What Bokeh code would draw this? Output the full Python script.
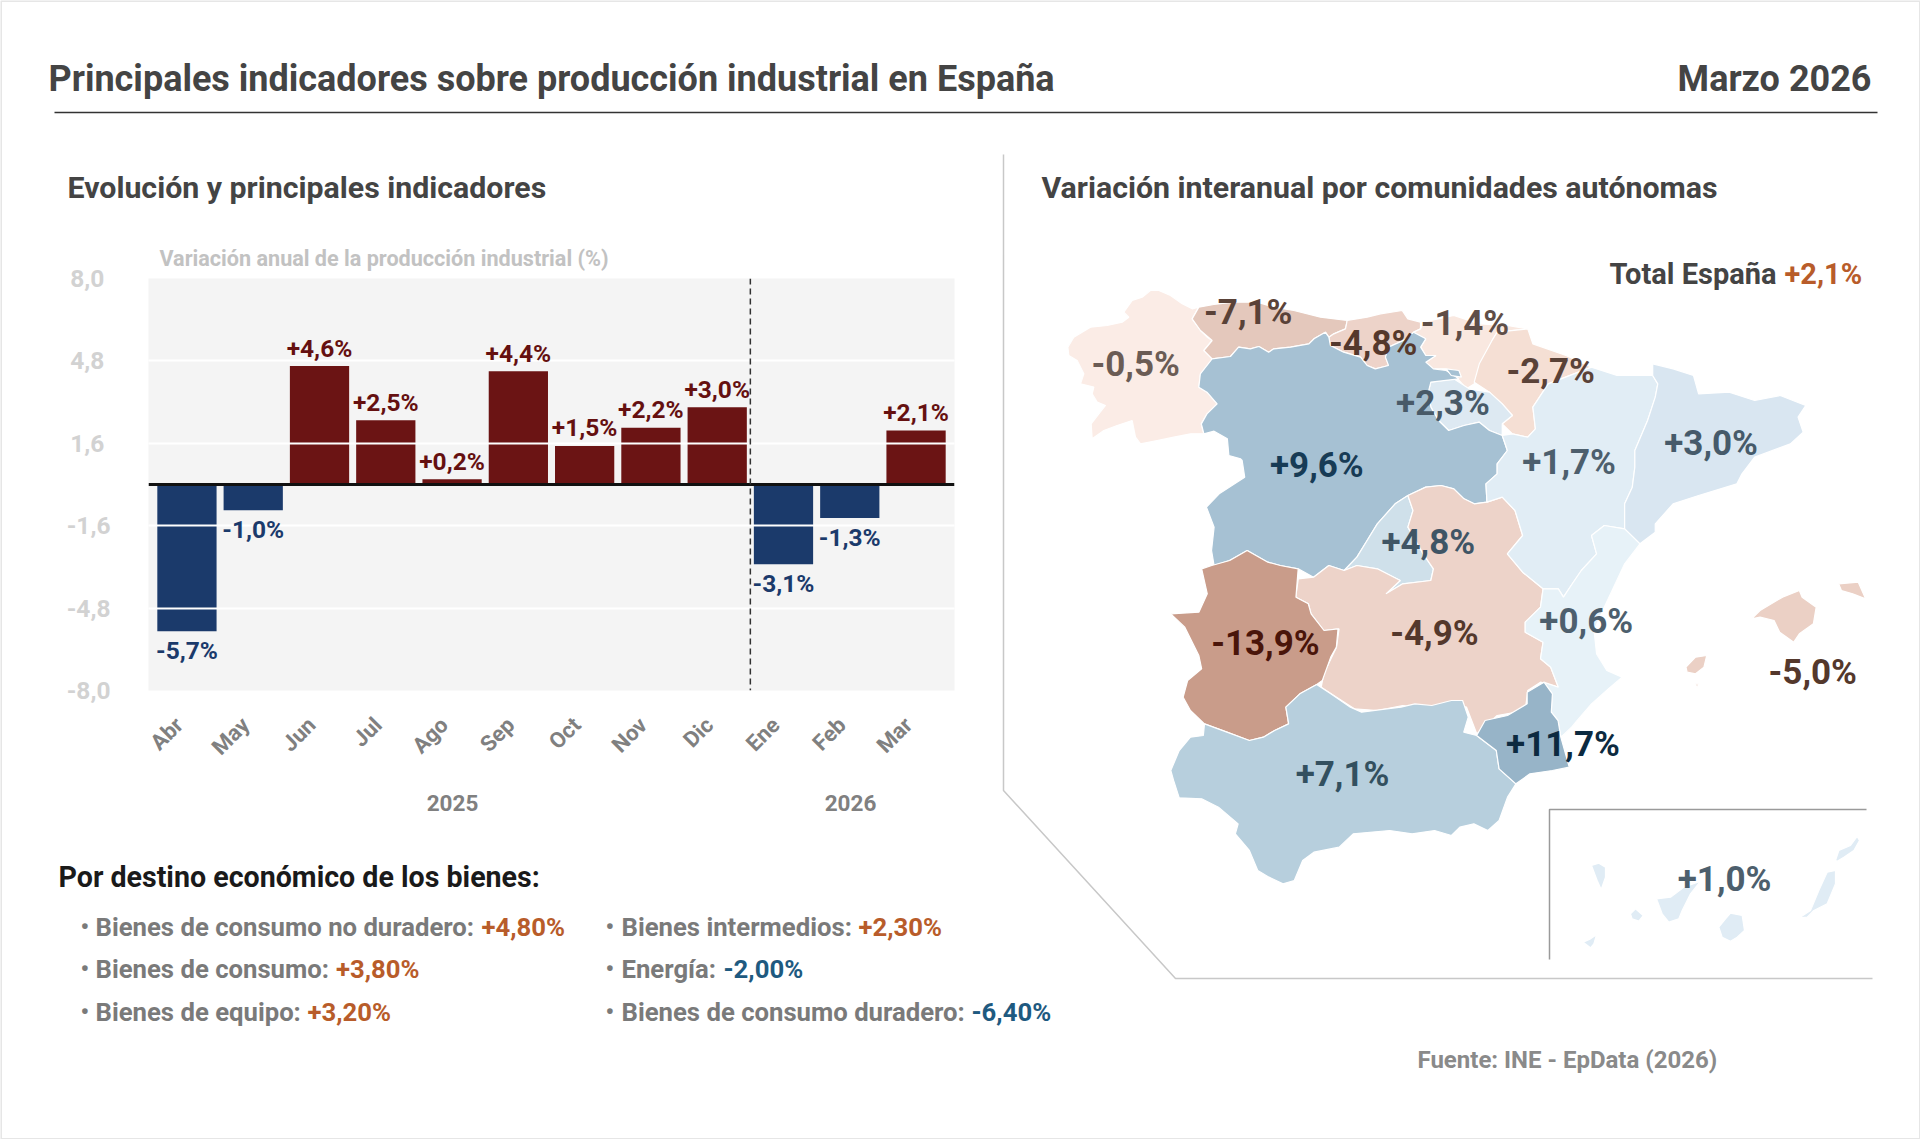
from bokeh.plotting import figure
from bokeh.layouts import row, column
from bokeh.core.properties import value
from bokeh.models import Range1d, FactorRange, FixedTicker, Span
from bokeh.embed import file_html
from bokeh.resources import INLINE

FONT = "Roboto"

# ---------- chart data ----------
MONTHS = ["Abr", "May", "Jun", "Jul", "Ago", "Sep", "Oct", "Nov", "Dic", "Ene", "Feb", "Mar"]
PRODUCTION = [-5.7, -1.0, 4.6, 2.5, 0.2, 4.4, 1.5, 2.2, 3.0, -3.1, -1.3, 2.1]
BAR_LABELS = ["-5,7%", "-1,0%", "+4,6%", "+2,5%", "+0,2%", "+4,4%", "+1,5%", "+2,2%", "+3,0%", "-3,1%", "-1,3%", "+2,1%"]
Y_TICKS = [-8.0, -4.8, -1.6, 1.6, 4.8, 8.0]
Y_TICK_LABELS = ["-8,0", "-4,8", "-1,6", "1,6\u00a0", "4,8\u00a0", "8,0\u00a0"]

# ---------- goods lists ----------
GOODS_LEFT = ["Bienes de consumo no duradero:", "Bienes de consumo:", "Bienes de equipo:"]
GOODS_LEFT_VALUES = ["+4,80%", "+3,80%", "+3,20%"]
GOODS_RIGHT = ["Bienes intermedios:", "Energía:", "Bienes de consumo duradero:"]
GOODS_RIGHT_VALUES = ["+2,30%", "-2,00%", "-6,40%"]

# ---------- map values ----------
REGION_VALUES = ["-0,5%", "-7,1%", "-4,8%", "-1,4%", "-2,7%", "+2,3%", "+9,6%", "+1,7%", "+3,0%",
                 "+4,8%", "-13,9%", "-4,9%", "+0,6%", "-5,0%", "+11,7%", "+7,1%", "+1,0%"]

# ---------- region outlines (map sketch units) ----------
def z1(pts):
    return [1030 + x * 0.51 for x, y in pts], [260 + y / 3 for x, y in pts]

def z2(pts):
    return [1030 + x * 0.5612 for x, y in pts], [560 + y / 3 for x, y in pts]

def zn(pts):
    return [1060 + x / 3 for x, y in pts], [280 + y / 3 for x, y in pts]

def zc(pts):
    return [1560 + x / 3 for x, y in pts], [820 + y / 3 for x, y in pts]

GALICIA = [(22,200),(40,170),(90,140),(140,135),(185,125),(205,110),(190,95),(215,60),(245,50),(270,30),(295,30),(330,45),(365,70),(395,85),(415,80),(395,115),(420,150),(440,170),(455,180),(430,210),(455,235),(450,255),(420,280),(415,320),(440,335),(470,370),(440,400),(422,430),(430,460),(390,460),(340,470),(290,480),(240,490),(225,470),(215,420),(170,435),(130,450),(95,475),(92,430),(115,400),(135,375),(110,365),(95,340),(100,320),(60,310),(70,280),(50,240),(25,225)]
ASTURIAS = [(395,115),(415,80),(460,72),(520,65),(590,65),(640,80),(700,90),(780,110),(860,120),(855,145),(820,160),(805,170),(795,155),(760,175),(745,190),(690,200),(640,205),(625,215),(595,198),(570,205),(535,200),(510,228),(455,235),(430,210),(455,180),(420,150)]
CANTABRIA = [(860,120),(920,110),(960,100),(1025,90),(1042,115),(1080,125),(1080,145),(1060,155),(1040,175),(985,200),(975,230),(985,255),(945,265),(920,255),(900,230),(850,215),(810,195),(805,170),(820,160),(855,145)]
PAIS_VASCO = [(765,205),(770,185),(830,165),(880,190),(935,195),(975,205),(915,215),(905,240),(885,310),(875,365),(855,385),(835,350),(815,325),(790,325),(775,305),(795,285),(775,285),(765,260),(775,235),(751,215)]
TREVINO = [(815,325),(840,330),(845,350),(825,345)]
NAVARRA = [(915,215),(975,205),(985,250),(1050,285),(1100,320),(1015,370),(985,440),(990,505),(975,530),(945,520),(925,490),(945,465),(925,430),(900,395),(870,365),(880,310),(905,240)]
RIOJA = [(785,365),(830,355),(860,385),(900,395),(925,430),(945,465),(925,490),(925,525),(900,510),(880,485),(850,495),(820,510),(800,480),(785,440),(780,395)]
CASTILLA_LEON = [(356,295),(392,288),(408,260),(431,265),(448,258),(467,275),(477,265),(510,260),(546,250),(556,235),(578,215),(585,230),(588,255),(614,275),(647,290),(660,315),(676,325),(702,315),(696,290),(702,260),(738,235),(751,215),(775,235),(765,260),(775,285),(795,285),(775,305),(790,325),(815,330),(840,355),(785,365),(780,395),(785,440),(800,480),(820,510),(850,495),(880,485),(900,510),(925,525),(935,570),(915,610),(915,640),(893,670),(895,725),(870,730),(850,715),(830,685),(805,675),(775,680),(740,705),(715,730),(680,790),(660,840),(640,890),(615,930),(585,915),(555,950),(525,925),(490,915),(465,905),(425,870),(390,900),(360,915),(355,870),(360,800),(345,740),(370,700),(420,650),(415,600),(412,595),(389,585),(386,535),(360,512),(340,520),(335,490),(346,460),(366,430),(346,395),(330,380),(333,340)]
MADRID = [(740,705),(715,730),(680,790),(660,840),(640,890),(615,930),(640,915),(680,925),(725,960),(697,1000),(730,970),(785,960),(790,925),(770,880),(740,800),(750,750)]
CASTILLA_MANCHA = [(740,705),(775,680),(805,675),(830,685),(850,715),(870,730),(895,725),(925,710),(950,750),(965,825),(935,880),(965,935),(1005,985),(1000,1040),(970,1085),(970,1115),(1005,1145),(1000,1195),(1020,1220),(1035,1280),(1000,1265),(975,1290),(970,1350),(915,1365),(875,1420),(855,1340),(825,1330),(770,1345),(730,1335),(680,1350),(635,1345),(610,1320),(570,1280),(575,1240),(600,1160),(605,1105),(575,1110),(550,1060),(545,1030),(520,1010),(525,955),(555,950),(585,915),(615,930),(640,915),(680,925),(725,960),(697,1000),(730,970),(785,960),(790,925),(770,880),(740,800),(750,750)]
ARAGON = [(1015,370),(1100,320),(1150,345),(1220,345),(1230,370),(1225,410),(1210,480),(1185,570),(1185,620),(1180,680),(1165,730),(1165,805),(1125,795),(1100,825),(1110,880),(1080,930),(1060,975),(1045,1010),(1035,985),(1005,985),(965,935),(935,880),(965,825),(950,750),(925,710),(895,725),(893,670),(915,640),(915,610),(935,570),(925,525),(945,520),(975,530),(990,505),(985,440)]
CATALUNA = [(1220,310),(1260,325),(1300,345),(1310,400),(1370,395),(1420,420),(1470,405),(1520,435),(1505,470),(1515,515),(1490,550),(1420,590),(1395,640),(1385,670),(1310,705),(1260,730),(1225,790),(1225,815),(1195,850),(1165,805),(1165,730),(1180,680),(1185,620),(1185,570),(1210,480),(1225,410),(1230,370),(1220,345)]
VALENCIA = [(1165,805),(1195,850),(1165,910),(1125,1040),(1105,1110),(1110,1180),(1130,1230),(1160,1250),(1133,1285),(1100,1330),(1072,1380),(1061,1400),(1040,1430),(1034,1380),(1021,1355),(1023,1300),(1006,1265),(1035,1280),(1020,1220),(1000,1195),(1005,1145),(970,1115),(970,1085),(1000,1040),(1005,985),(1035,985),(1045,1010),(1060,975),(1080,930),(1110,880),(1100,825),(1125,795)]
EXTREMADURA = [(305,25),(323,15),(355,0),(386,-30),(423,5),(445,15),(477,25),(473,110),(495,130),(500,160),(523,210),(548,205),(545,260),(535,290),(520,360),(510,372),(480,400),(455,440),(460,490),(435,510),(415,530),(390,540),(350,515),(310,490),(285,450),(272,410),(280,360),(305,325),(300,285),(275,200),(250,160),(300,155),(315,100)]
ANDALUCIA = [(510,372),(535,400),(570,440),(590,455),(635,445),(660,440),(685,430),(715,435),(750,420),(770,420),(780,470),(772,515),(795,525),(830,570),(835,625),(865,670),(850,710),(835,780),(815,810),(790,790),(765,800),(750,825),(720,810),(680,820),(640,810),(575,820),(550,860),(505,875),(485,900),(470,960),(450,970),(425,950),(405,930),(390,870),(365,820),(370,790),(335,740),(305,715),(265,712),(255,660),(250,630),(265,570),(285,530),(308,525),(310,490),(350,515),(390,540),(415,530),(435,510),(460,490),(455,440),(480,400)]
MURCIA = [(915,365),(930,400),(928,455),(940,480),(945,530),(960,620),(930,630),(890,640),(865,670),(835,625),(830,570),(795,525),(810,480),(850,465),(885,430),(885,395)]
MALLORCA = [(1285,175),(1300,150),(1340,110),(1370,90),(1375,110),(1400,140),(1395,190),(1370,220),(1360,245),(1335,215),(1325,180),(1300,170)]
MENORCA = [(1440,70),(1475,65),(1488,115),(1465,100),(1445,90)]
IBIZA = [(1168,320),(1185,290),(1205,285),(1200,320),(1185,340),(1170,335)]
FORMENTERA = [(1185,370),(1190,370),(1188,385)]
LA_PALMA = [(93,135),(115,128),(135,140),(135,170),(122,207),(110,180)]
GOMERA = [(210,280),(225,265),(248,285),(235,302),(215,295)]
TENERIFE = [(288,235),(330,230),(370,200),(420,182),(390,220),(365,270),(355,295),(325,305),(305,280)]
GRAN_CANARIA = [(475,320),(495,295),(510,278),(545,285),(552,330),(530,350),(510,362),(485,350)]
HIERRO = [(68,365),(90,355),(108,343),(100,370),(90,382)]
FUERTEVENTURA = [(800,155),(825,150),(825,190),(800,250),(760,270),(740,290),(717,292),(750,270),(775,210)]
LANZAROTE = [(825,120),(835,90),(870,75),(890,48),(897,60),(880,90),(850,110),(830,122)]

W, H = 1920, 1139

# ---------- background figure: coordinates follow the page ----------
bg = figure(width=W, height=H, x_range=Range1d(0, W), y_range=Range1d(H, 0),
            output_backend="svg", toolbar_location=None, min_border=0)
bg.axis.visible = False
bg.grid.visible = False
bg.outline_line_color = None

def txt(x, y, s, size, color, align="left"):
    bg.text(x=[x], y=[y], text=[s], text_font=value(FONT), text_font_style="bold",
            text_font_size=f"{size}px", text_color=color, text_align=align, text_baseline="middle")

shapes = [
    (zn(GALICIA), "#fbece6"), (zn(ASTURIAS), "#e4c8bc"), (zn(CANTABRIA), "#edd3c9"),
    (z1(PAIS_VASCO), "#f9e8e0"), (z1(NAVARRA), "#f5dfd4"), (z1(RIOJA), "#dde9f2"),
    (z1(CASTILLA_LEON), "#a6c1d3"), (z1(TREVINO), "#a6c1d3"), (z1(MADRID), "#cfe0ea"),
    (z1(CASTILLA_MANCHA), "#edd3c9"), (z1(ARAGON), "#e1edf5"), (z1(CATALUNA), "#d9e6f1"),
    (z1(VALENCIA), "#e7f2f8"), (z2(EXTREMADURA), "#c99c8a"), (z2(ANDALUCIA), "#b7cfdd"),
    (z2(MURCIA), "#97b4c8"), (z2(MALLORCA), "#ebd0c5"), (z2(MENORCA), "#ebd0c5"),
    (z2(IBIZA), "#ebd0c5"), (z2(FORMENTERA), "#ebd0c5"), (zc(LA_PALMA), "#e0ecf5"),
    (zc(GOMERA), "#e0ecf5"), (zc(TENERIFE), "#e0ecf5"), (zc(GRAN_CANARIA), "#e0ecf5"),
    (zc(HIERRO), "#e0ecf5"), (zc(FUERTEVENTURA), "#e0ecf5"), (zc(LANZAROTE), "#e0ecf5"),
]
bg.patches(xs=[s[0][0] for s in shapes], ys=[s[0][1] for s in shapes],
           fill_color=[s[1] for s in shapes], line_color="white", line_width=1.2)

# page edge, header and panel decoration
bg.line([0, W, W, 0, 0], [0, 0, H, H, 0], line_color="#e6e6e6", line_width=3)
bg.line([54, 1877], [112, 112], line_color="#333333", line_width=1.5)
bg.line([1003, 1003, 1175, 1872], [154, 790, 978, 978], line_color="#c8c8c8", line_width=1.5)
bg.line([1549, 1549, 1866], [959, 809, 809], line_color="#9a9a9a", line_width=1.5)

txt(48, 78, "Principales indicadores sobre producción industrial en España", 36, "#444444")
txt(1871, 78, "Marzo 2026", 36, "#444444", "right")
txt(67, 187, "Evolución y principales indicadores", 30.3, "#444444")
txt(1041, 187, "Variación interanual por comunidades autónomas", 30.3, "#444444")
txt(159, 258, "Variación anual de la producción industrial (%)", 21.6, "#c2c2c2")
txt(1776, 273, "Total España", 29, "#444444", "right")
txt(1784, 273, "+2,1%", 29, "#b85c2a")
txt(452, 802, "2025", 22.5, "#808080", "center")
txt(850, 802, "2026", 22.5, "#808080", "center")
txt(58, 876.5, "Por destino económico de los bienes:", 28.6, "#1a1a1a")

ROW_Y = [926, 968.5, 1011]
LEFT_VALUE_X = [481, 335.5, 307]
RIGHT_VALUE_X = [858, 723, 971]
for i, y in enumerate(ROW_Y):
    txt(80, y, "•", 24, "#7a7a7a")
    txt(95, y, GOODS_LEFT[i], 25.7, "#7a7a7a")
    txt(LEFT_VALUE_X[i], y, GOODS_LEFT_VALUES[i], 25.7, "#b85c2a")
    txt(605, y, "•", 24, "#7a7a7a")
    txt(621, y, GOODS_RIGHT[i], 25.7, "#7a7a7a")
    txt(RIGHT_VALUE_X[i], y, GOODS_RIGHT_VALUES[i], 25.7,
        "#b85c2a" if GOODS_RIGHT_VALUES[i].startswith("+") else "#1e5a80")
txt(1417, 1059, "Fuente: INE - EpData (2026)", 24, "#8a8a8a")

LABEL_POS = [(927,297),(1019,255),(1121,280),(1196,264),(1266,303),(1178,329),(1075,380),(1281,377),(1397,362),
             (1166,443),(1033,525),(1171,517),(1295,507),(1480,549),(1276,608),(1096,632),(1408,718)]
LABEL_COLORS = ["#6b5c55", "#5a4238", "#54382c", "#5f4e47", "#5a4238", "#485a68", "#173b55", "#4d5f6d", "#465a6a",
                "#3f5565", "#4a150a", "#54382c", "#4d5f6d", "#54382c", "#0c2a40", "#33505f", "#4d5f6d"]
for (x, y), s, c in zip(LABEL_POS, REGION_VALUES, LABEL_COLORS):
    txt(x * 1.2245, y * 1.2245, s, 35, c, "center")

# ---------- bar chart: own frame over the background ----------
factors = [m + "\u00a0\u00a0" for m in MONTHS]   # trailing gap moves the slanted tick labels off the bar centres
chart = figure(width=1000, height=860, x_range=FactorRange(*factors, range_padding=0.08, range_padding_units="absolute"),
               y_range=Range1d(-8, 8), output_backend="svg", toolbar_location=None,
               min_border_left=148, min_border_right=46, min_border_top=278, min_border_bottom=170,
               background_fill_color="#f4f4f4", border_fill_alpha=0)
chart.outline_line_color = None
bar_colors = ["#6b1414" if v > 0 else "#1b3a6b" for v in PRODUCTION]
label_colors = ["#651010" if v > 0 else "#1b3a6b" for v in PRODUCTION]
chart.vbar(x=factors, top=PRODUCTION, bottom=0, width=0.894, fill_color=bar_colors, line_color=None)
chart.text(x=factors, y=PRODUCTION, text=BAR_LABELS, text_font=value(FONT), text_font_style="bold",
           text_font_size="24.5px", text_color=label_colors, text_align="center", text_baseline="alphabetic",
           y_offset=[-18 if v > 0 else 19.5 for v in PRODUCTION], level="annotation")
chart.xgrid.visible = False
chart.ygrid.ticker = FixedTicker(ticks=Y_TICKS)
chart.ygrid.grid_line_color = "white"
chart.ygrid.grid_line_width = 2
chart.ygrid.level = "guide"
chart.add_layout(Span(location=0, dimension="width", line_color="#111111", line_width=3))
chart.add_layout(Span(location=9, dimension="height", line_color="#333333", line_width=1.5, line_dash=[6, 4]))

yax = chart.yaxis[0]
yax.ticker = FixedTicker(ticks=Y_TICKS)
yax.major_label_overrides = dict(zip(Y_TICKS, Y_TICK_LABELS))
yax.major_label_text_font = FONT
yax.major_label_text_font_style = "bold"
yax.major_label_text_font_size = "24.5px"
yax.major_label_text_color = "#d2d2d2"
yax.major_label_standoff = 32
yax.axis_line_color = None
yax.major_tick_line_color = None
yax.minor_tick_line_color = None

xax = chart.xaxis[0]
xax.major_label_orientation = 0.785
xax.major_label_text_font = FONT
xax.major_label_text_font_style = "bold"
xax.major_label_text_font_size = "22px"
xax.major_label_text_color = "#808080"
xax.major_label_standoff = 17
xax.axis_line_color = None
xax.major_tick_line_color = None
xax.minor_tick_line_color = None

overlay = column(chart, styles={"position": "absolute", "left": "0px", "top": "0px"})
layout = row(bg, overlay, width=W, height=H, styles={"position": "relative"})
open("out.html", "w").write(file_html(layout, INLINE))
